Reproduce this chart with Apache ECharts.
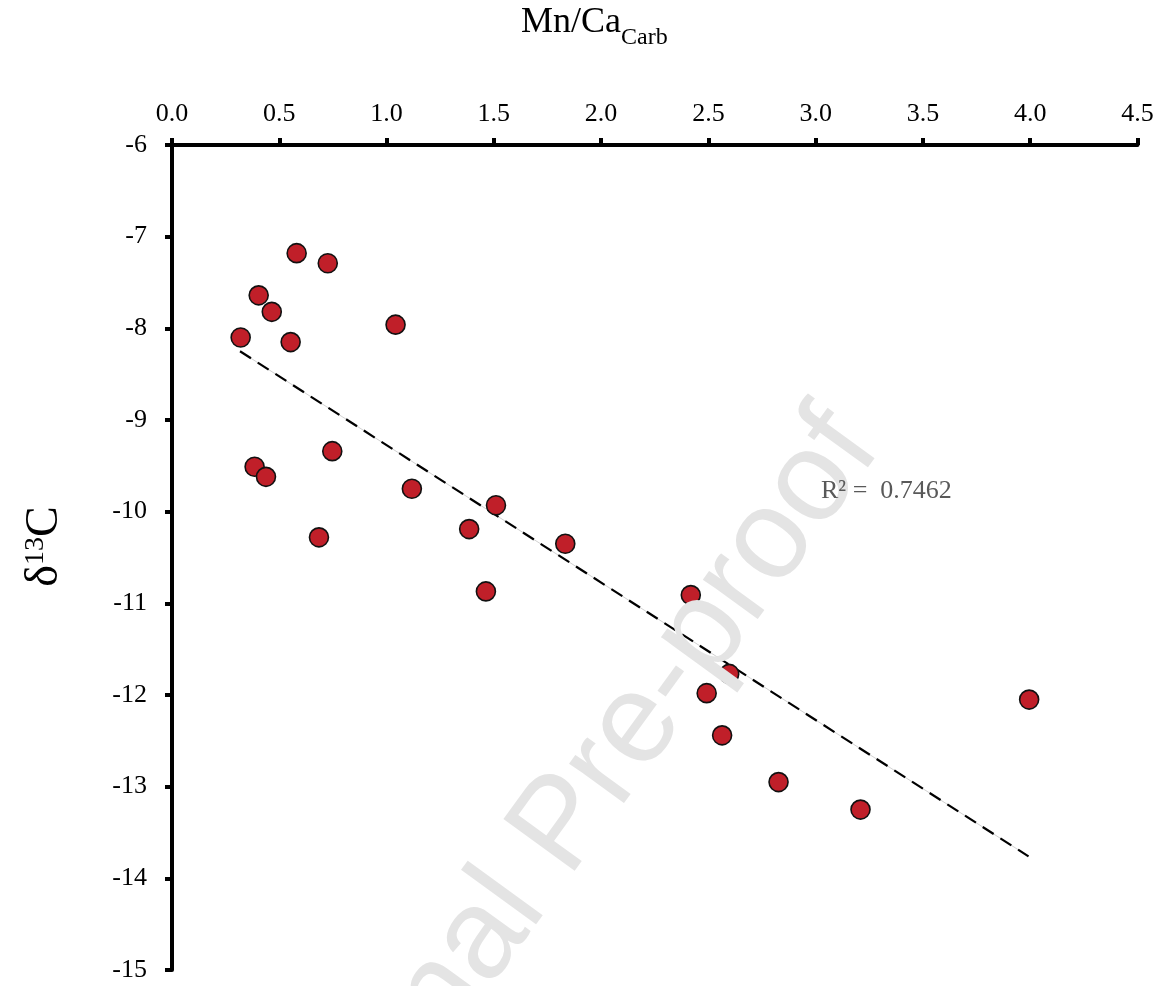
<!DOCTYPE html>
<html>
<head>
<meta charset="utf-8">
<script src="https://cdn.jsdelivr.net/npm/echarts@6/dist/echarts.min.js"></script>
<style>
html,body{margin:0;padding:0;background:#fff;}
#chart{width:1163px;height:986px;}
</style>
</head>
<body>
<div id="chart"></div>
<script>
// Data
const mnCa = [0.581, 0.726, 0.404, 0.465, 0.320, 0.553, 1.042, 0.385, 0.438, 0.747, 1.118, 0.685,
              1.510, 1.385, 1.833, 1.463, 2.418, 2.597, 2.492, 2.564, 2.827, 3.209, 3.995];
const d13C = [-7.18, -7.29, -7.64, -7.82, -8.10, -8.15, -7.96, -9.51, -9.62, -9.34, -9.75, -10.28,
              -9.93, -10.19, -10.35, -10.87, -10.91, -11.77, -11.98, -12.44, -12.95, -13.25, -12.05];
const trendX = [0.317, 3.992];
const trendY = [-8.25, -13.76];
const xTicks = [0, 0.5, 1, 1.5, 2, 2.5, 3, 3.5, 4, 4.5];
const yTicks = [-15, -14, -13, -12, -11, -10, -9, -8, -7, -6];
const r2Label = 'R² =  0.7462';
const watermark = 'Journal Pre-proof';

const chart = echarts.init(document.getElementById('chart'), null, {renderer: 'canvas'});
const serif = '"Liberation Serif", "Times New Roman", serif';

const points = mnCa.map((x, i) => [x, d13C[i]]);
const trend = trendX.map((x, i) => [x, trendY[i]]);

const option = {
  backgroundColor: '#ffffff',
  animation: false,
  title: {
    left: 516,
    top: 0,
    text: '{m|Mn/Ca}{s|Carb}',
    textStyle: {
      fontWeight: 'normal',
      rich: {
        m: {fontFamily: serif, fontSize: 36, fontWeight: 'normal', color: '#000', verticalAlign: 'bottom'},
        s: {fontFamily: serif, fontSize: 24, fontWeight: 'normal', color: '#000', verticalAlign: 'bottom', padding: [0, 0, -9, 0]}
      }
    }
  },
  grid: {left: 172, right: 25.5, top: 145, bottom: 16, containLabel: false},
  xAxis: {
    type: 'value',
    position: 'top',
    min: xTicks[0],
    max: xTicks[xTicks.length - 1],
    interval: 0.5,
    axisLine: {onZero: false, lineStyle: {color: '#000', width: 4}},
    axisTick: {show: true, length: 7, lineStyle: {color: '#000', width: 4}},
    axisLabel: {fontFamily: serif, fontSize: 26, color: '#000', margin: 18,
      formatter: v => v.toFixed(1)},
    splitLine: {show: false}
  },
  yAxis: {
    type: 'value',
    min: yTicks[0],
    max: yTicks[yTicks.length - 1],
    interval: 1,
    name: '{d|δ}{sup|13}{c|C}',
    nameLocation: 'middle',
    nameRotate: 90,
    nameGap: 104,
    nameTextStyle: {
      padding: [0, 0, 0, 22],
      rich: {
        d: {fontFamily: serif, fontSize: 46, color: '#000', verticalAlign: 'bottom'},
        sup: {fontFamily: serif, fontSize: 28, color: '#000', verticalAlign: 'top', padding: [0, 0, 14, 0]},
        c: {fontFamily: serif, fontSize: 46, color: '#000', verticalAlign: 'bottom'}
      }
    },
    axisLine: {onZero: false, lineStyle: {color: '#000', width: 4}},
    axisTick: {show: true, length: 7, lineStyle: {color: '#000', width: 4}},
    axisLabel: {fontFamily: serif, fontSize: 26, color: '#000', margin: 25},
    splitLine: {show: false}
  },
  series: [
    {
      type: 'line',
      data: trend,
      symbol: 'none',
      lineStyle: {color: '#d2d2d2', width: 1},
      z: 1,
      silent: true
    },
    {
      type: 'line',
      data: trend,
      symbol: 'none',
      lineStyle: {color: '#000', width: 2.2, type: [13, 8]},
      z: 2,
      silent: true
    },
    {
      type: 'scatter',
      data: points,
      symbol: 'circle',
      symbolSize: 19,
      itemStyle: {color: '#C01F29', opacity: 1, borderColor: '#111', borderWidth: 1.6},
      z: 3
    }
  ],
  graphic: [
    {
      type: 'text',
      x: 563,
      y: 827,
      rotation: 54 * Math.PI / 180,
      z: 100,
      silent: true,
      style: {text: watermark, fontFamily: '"Liberation Sans", Arial, sans-serif', fontSize: 128,
        fill: '#e4e4e4', align: 'center', verticalAlign: 'middle'}
    },
    {
      type: 'text',
      left: 821,
      top: 478,
      z: 110,
      style: {text: r2Label, fontFamily: serif, fontSize: 26, fill: '#595959'}
    }
  ]
};
chart.setOption(option);
</script>
</body>
</html>
